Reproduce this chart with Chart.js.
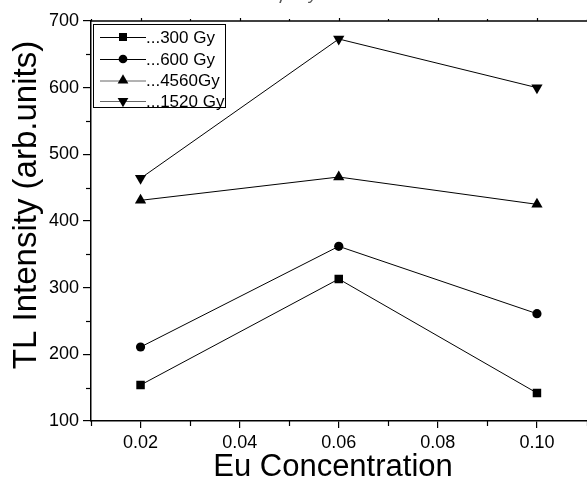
<!DOCTYPE html>
<html>
<head>
<meta charset="utf-8">
<script src="https://cdn.jsdelivr.net/npm/chart.js@4.4.1/dist/chart.umd.min.js"></script>
<style>
html,body{margin:0;padding:0;background:#fff;overflow:hidden;}
#wrap{position:relative;width:587px;height:481px;overflow:hidden;}
</style>
</head>
<body>
<div id="wrap"><canvas id="c" width="593" height="481"></canvas></div>
<script>
// ---- data ----
const categories = [0.02, 0.06, 0.10];
const dose300  = [154, 313, 142];
const dose600  = [211, 362, 261];
const dose4560 = [431, 466, 425];
const dose1520 = [464, 673, 600];
const seriesLabels = ['...300 Gy', '...600 Gy', '...4560Gy', '...1520 Gy'];
const xMajorTicks = [0.02, 0.04, 0.06, 0.08, 0.10];
const xMinorTicks = [0.01, 0.03, 0.05, 0.07, 0.09, 0.11];
const yMajorTicks = [100, 200, 300, 400, 500, 600, 700];
const yMinorTicks = [150, 250, 350, 450, 550, 650];
const titleText = 'for different γ-ray doses';
const xTitle = 'Eu Concentration';
const yTitle = 'TL Intensity (arb.units)';

const styles = [
  {pointStyle: 'rect', radius: 6, rotation: 0},
  {pointStyle: 'circle', radius: 4.6, rotation: 0},
  {pointStyle: 'triangle', radius: 6.5, rotation: 0},
  {pointStyle: 'triangle', radius: 6.5, rotation: 180}
];
const seriesValues = [dose300, dose600, dose4560, dose1520];

const datasets = seriesValues.map((vals, i) => ({
  label: seriesLabels[i],
  data: categories.map((x, j) => ({x: x, y: vals[j]})),
  borderColor: '#000',
  backgroundColor: '#000',
  borderWidth: 1,
  pointStyle: styles[i].pointStyle,
  pointRadius: styles[i].radius,
  pointRotation: styles[i].rotation,
  pointBorderWidth: 0,
  pointBackgroundColor: '#000',
  tension: 0
}));

const FONT = '"Liberation Sans", Arial, sans-serif';

const decor = {
  id: 'decor',
  afterDraw(chart) {
    const ctx = chart.ctx;
    const xs = chart.scales.x, ys = chart.scales.y;
    const ca = chart.chartArea;
    ctx.save();
    ctx.strokeStyle = '#000';
    ctx.lineWidth = 1.5;
    // top axis line
    ctx.beginPath();
    ctx.moveTo(ca.left, ca.top);
    ctx.lineTo(ca.right + 2, ca.top);
    ctx.stroke();
    ctx.lineWidth = 1.2;
    // top ticks
    xMajorTicks.forEach(v => {
      const px = Math.round(xs.getPixelForValue(v)) + 0.5;
      ctx.beginPath(); ctx.moveTo(px, ca.top); ctx.lineTo(px, ca.top - 3); ctx.stroke();
    });
    xMinorTicks.forEach(v => {
      const px = Math.round(xs.getPixelForValue(v)) + 0.5;
      ctx.beginPath(); ctx.moveTo(px, ca.top); ctx.lineTo(px, ca.top - 2); ctx.stroke();
    });
    // bottom minor ticks
    xMinorTicks.forEach(v => {
      const px = Math.round(xs.getPixelForValue(v)) + 0.5;
      ctx.beginPath(); ctx.moveTo(px, ca.bottom); ctx.lineTo(px, ca.bottom + 5); ctx.stroke();
    });
    // left minor ticks
    yMinorTicks.forEach(v => {
      const py = Math.round(ys.getPixelForValue(v)) + 0.5;
      ctx.beginPath(); ctx.moveTo(ca.left, py); ctx.lineTo(ca.left - 5, py); ctx.stroke();
    });

    // legend
    const lx = 93.5, ly = 24.5, lw = 132, lh = 83;
    ctx.lineWidth = 1;
    ctx.strokeStyle = '#000';
    ctx.strokeRect(lx, ly, lw, lh);
    const rows = [37, 59, 80.5, 101];
    ctx.font = '17px ' + FONT;
    ctx.textBaseline = 'middle';
    ctx.textAlign = 'left';
    seriesLabels.forEach((lab, i) => {
      const y = rows[i];
      ctx.strokeStyle = i < 2 ? '#000' : '#666';
      ctx.lineWidth = 1;
      ctx.beginPath();
      ctx.moveTo(100, y + 0.5); ctx.lineTo(146, y + 0.5);
      ctx.stroke();
      ctx.fillStyle = '#000';
      ctx.strokeStyle = '#000';
      const st = styles[i];
      Chart.helpers.drawPoint(ctx, {pointStyle: st.pointStyle, radius: st.radius * 0.95, rotation: st.rotation, borderWidth: 0}, 123, y);
      ctx.fillStyle = '#000';
      ctx.fillText(lab, 146, y + 1);
    });

    // titles
    ctx.fillStyle = '#000';
    ctx.textAlign = 'center';
    ctx.textBaseline = 'alphabetic';
    ctx.font = '31px ' + FONT;
    ctx.fillText(xTitle, 333, 476);
    ctx.save();
    ctx.translate(36, 205);
    ctx.rotate(-Math.PI / 2);
    ctx.font = '33px ' + FONT;
    ctx.fillText(yTitle, 0, 0);
    ctx.restore();
    ctx.fillStyle = '#555';
    ctx.textAlign = 'left';
    ctx.font = 'italic 18px ' + FONT;
    ctx.fillText(titleText, 182, -1);
    ctx.restore();
  }
};

new Chart(document.getElementById('c'), {
  type: 'line',
  data: {datasets: datasets},
  options: {
    responsive: false,
    animation: false,
    events: [],
    layout: {padding: {top: 21, right: 0, left: 0, bottom: 0}},
    plugins: {legend: {display: false}, tooltip: {enabled: false}, title: {display: false}},
    scales: {
      x: {
        type: 'linear',
        min: 0.01,
        max: 0.11,
        afterBuildTicks(scale) { scale.ticks = xMajorTicks.map(v => ({value: v})); },
        afterFit(scale) { scale.height = 60; },
        ticks: {
          color: '#000',
          font: {family: FONT, size: 18},
          padding: 4,
          maxRotation: 0,
          autoSkip: false,
          callback: (v) => Number(v).toFixed(2)
        },
        grid: {drawOnChartArea: false, drawTicks: true, tickLength: 7, color: '#000', lineWidth: 1.2},
        border: {display: true, color: '#000', width: 1.5}
      },
      y: {
        type: 'linear',
        min: 100,
        max: 700,
        afterBuildTicks(scale) { scale.ticks = yMajorTicks.map(v => ({value: v})); },
        afterFit(scale) { scale.width = 91; },
        ticks: {
          color: '#000',
          font: {family: FONT, size: 18},
          padding: 4,
          autoSkip: false,
          callback: (v) => String(v)
        },
        grid: {drawOnChartArea: false, drawTicks: true, tickLength: 8, color: '#000', lineWidth: 1.2},
        border: {display: true, color: '#000', width: 1.5}
      }
    }
  },
  plugins: [decor]
});
</script>
</body>
</html>
